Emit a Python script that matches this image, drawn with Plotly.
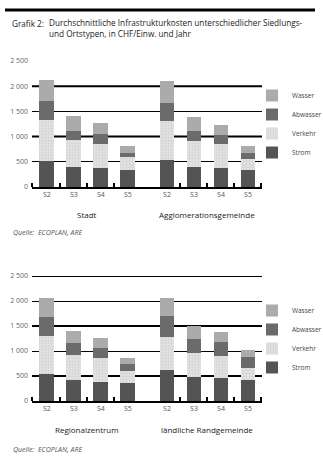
import plotly.graph_objects as go

# ---------------- data ----------------
CATEGORIES = ["S2", "S3", "S4", "S5"]
SERIES = ["Strom", "Verkehr", "Abwasser", "Wasser"]
TOP_GROUPS = ["Stadt", "Agglomerationsgemeinde"]
BOTTOM_GROUPS = ["Regionalzentrum", "ländliche Randgemeinde"]

stadt_strom = [510, 390, 370, 330]
stadt_verkehr = [820, 540, 490, 260]
stadt_abwasser = [380, 190, 190, 90]
stadt_wasser = [420, 290, 220, 140]

agglo_strom = [540, 390, 370, 330]
agglo_verkehr = [770, 520, 480, 230]
agglo_abwasser = [360, 200, 180, 110]
agglo_wasser = [430, 280, 210, 150]

regio_strom = [540, 430, 390, 360]
regio_verkehr = [760, 490, 480, 250]
regio_abwasser = [380, 250, 200, 140]
regio_wasser = [390, 240, 190, 120]

land_strom = [620, 480, 470, 430]
land_verkehr = [660, 490, 430, 240]
land_abwasser = [420, 270, 280, 210]
land_wasser = [370, 270, 210, 140]

Y_TICKS = [0, 500, 1000, 1500, 2000, 2500]
Y_TICK_LABELS = ["0", "500", "1 000", "1 500", "2 000", "2 500"]

TITLE_LABEL = "Grafik 2:"
TITLE_TEXT = ("Durchschnittliche Infrastrukturkosten unterschiedlicher Siedlungs-<br>"
              "und Ortstypen, in CHF/Einw. und Jahr")
SOURCE = "Quelle:  ECOPLAN, ARE"

# ---------------- styling ----------------
COLORS = {"Strom": "#545454", "Verkehr": "#dcdcdc", "Abwasser": "#6b6b6b", "Wasser": "#ababab"}
LEGEND_RANK = {"Wasser": 1, "Abwasser": 2, "Verkehr": 3, "Strom": 4}
FONT = "Open Sans, DejaVu Sans, sans-serif"
W, H = 323, 460

# category slots (in category-width units) for the two groups of each panel
GROUP_SLOTS = [[0.55, 1.55, 2.55, 3.55], [5.0, 6.0, 7.0, 8.0]]
SEP_TICKS = [0, 1.04, 2.04, 3.04, 5.48, 6.48, 7.48, 8.48]
X_RANGE = [0, 8.52]

panels = [
    dict(groups=TOP_GROUPS,
         data=[{"Strom": stadt_strom, "Verkehr": stadt_verkehr, "Abwasser": stadt_abwasser, "Wasser": stadt_wasser},
               {"Strom": agglo_strom, "Verkehr": agglo_verkehr, "Abwasser": agglo_abwasser, "Wasser": agglo_wasser}],
         top_px=61, bot_px=187, thick=[1000, 2000], legend_top_px=81, source_px=233, label_px=214),
    dict(groups=BOTTOM_GROUPS,
         data=[{"Strom": regio_strom, "Verkehr": regio_verkehr, "Abwasser": regio_abwasser, "Wasser": regio_wasser},
               {"Strom": land_strom, "Verkehr": land_verkehr, "Abwasser": land_abwasser, "Wasser": land_wasser}],
         top_px=276, bot_px=401, thick=[500, 1500, 2500], legend_top_px=296, source_px=449, label_px=429),
]

fig = go.Figure()
x_left, x_right = 32 / W, 262 / W
annotations = []

for p_i, p in enumerate(panels):
    sfx = "" if p_i == 0 else str(p_i + 1)
    xa, ya = "x" + sfx, "y" + sfx
    legend_name = "legend" if p_i == 0 else "legend" + str(p_i + 1)
    xs = GROUP_SLOTS[0] + GROUP_SLOTS[1]
    for s in SERIES:
        ys = p["data"][0][s] + p["data"][1][s]
        marker = dict(color=COLORS[s], line=dict(width=0))
        if s == "Verkehr":
            marker["pattern"] = dict(shape=".", size=3, solidity=0.35,
                                     fgcolor="#c2c2c2", bgcolor="#e2e2e2")
        fig.add_trace(go.Bar(
            x=xs, y=ys, name=s, width=0.55, marker=marker,
            xaxis=xa, yaxis=ya, legend=legend_name, legendgroup=s + sfx,
            legendrank=LEGEND_RANK[s],
            hovertemplate=s + ": %{y}<extra></extra>",
        ))

    y_top = 1 - p["top_px"] / H
    y_bot = 1 - p["bot_px"] / H
    xkey = "xaxis" + sfx
    ykey = "yaxis" + sfx
    fig.layout[xkey] = dict(
        domain=[x_left, x_right], range=X_RANGE, anchor=ya,
        tickmode="array", tickvals=xs, ticktext=CATEGORIES * 2,
        ticks="", showgrid=False, zeroline=False,
        showline=True, linecolor="black", linewidth=2,
        tickfont=dict(family=FONT, size=7, color="#555555"),
        minor=dict(tickmode="array", tickvals=SEP_TICKS, ticks="inside",
                   ticklen=4, tickwidth=1.5, tickcolor="black", showgrid=False),
        fixedrange=True, automargin=False,
    )
    fig.layout[ykey] = dict(
        domain=[y_bot, y_top], range=[0, 2500], anchor=xa,
        tickmode="array", tickvals=Y_TICKS, ticktext=Y_TICK_LABELS,
        showgrid=True, gridcolor="black", gridwidth=1, zeroline=False,
        showline=False, ticks="", ticklabelstandoff=3,
        tickfont=dict(family=FONT, size=7, color="#666666"),
        fixedrange=True, automargin=False,
    )
    for v in p["thick"]:
        fig.add_shape(type="line", xref=xa + " domain", yref=ya, x0=0, x1=1, y0=v, y1=v,
                      line=dict(color="black", width=2), layer="below")

    fig.layout[legend_name] = dict(
        x=252 / W, xanchor="left", y=1 - p["legend_top_px"] / H, yanchor="top",
        traceorder="grouped", tracegroupgap=0,
        font=dict(family=FONT, size=6.5, color="#444444"),
        bgcolor="rgba(0,0,0,0)", itemwidth=30,
    )

    for g_i, g in enumerate(p["groups"]):
        annotations.append(dict(
            text=g, xref=xa, yref="paper",
            x=sum(GROUP_SLOTS[g_i]) / 4, y=1 - p["label_px"] / H,
            showarrow=False, xanchor="center", yanchor="middle",
            font=dict(family=FONT, size=8, color="#222222"),
        ))
    annotations.append(dict(
        text="<i>" + SOURCE + "</i>", xref="paper", yref="paper",
        x=11 / W, y=1 - p["source_px"] / H, showarrow=False,
        xanchor="left", yanchor="middle",
        font=dict(family=FONT, size=7, color="#555555"),
    ))

# header rule and title
RULE_Y = 1 - 10 / H
fig.add_shape(type="rect", xref="paper", yref="paper", x0=5 / W, x1=315 / W,
              y0=RULE_Y - 1.5 / H, y1=RULE_Y + 1.5 / H,
              fillcolor="black", line=dict(width=0), layer="above")
annotations.append(dict(text=TITLE_LABEL, xref="paper", yref="paper", x=10 / W, y=1 - 23 / H,
                        showarrow=False, xanchor="left", yanchor="middle",
                        font=dict(family=FONT, size=8.2, color="#222222")))
annotations.append(dict(text=TITLE_TEXT, xref="paper", yref="paper", x=47 / W, y=1 - 27.5 / H,
                        showarrow=False, xanchor="left", yanchor="middle", align="left",
                        font=dict(family=FONT, size=8.2, color="#222222")))

fig.update_layout(
    width=W, height=H, margin=dict(l=0, r=0, t=0, b=0, autoexpand=False),
    paper_bgcolor="white", plot_bgcolor="white",
    barmode="stack", bargap=0, showlegend=True,
    annotations=annotations,
    font=dict(family=FONT),
)

fig.write_html("out.html", config=dict(displayModeBar=False))
